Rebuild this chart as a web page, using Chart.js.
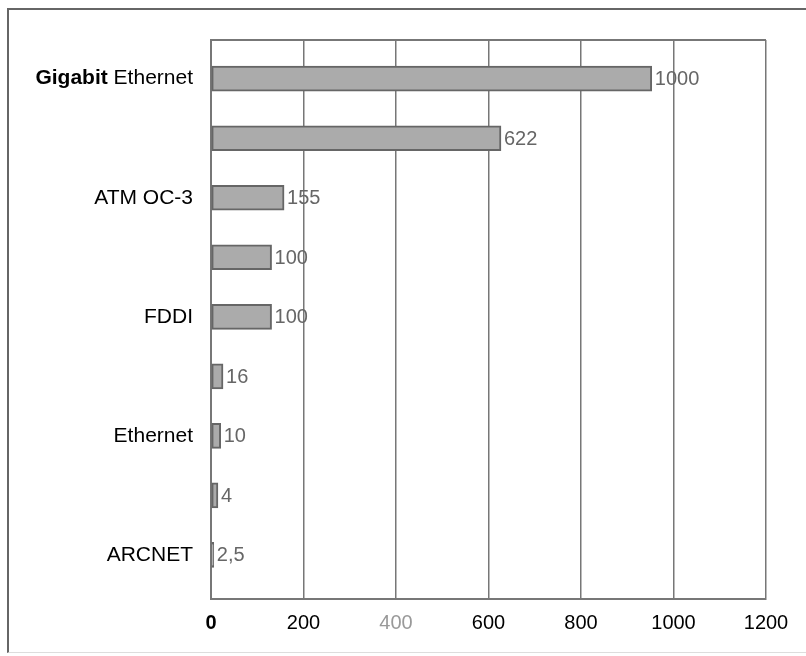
<!DOCTYPE html>
<html>
<head>
<meta charset="utf-8">
<script src="https://cdn.jsdelivr.net/npm/chart.js@4/dist/chart.umd.min.js"></script>
<style>
    body { margin: 0; background: #fff; }
    #wrap { position: relative; width: 806px; height: 656px; }
    #frame {
        position: absolute; left: 7px; top: 8px; right: 0; bottom: 3px;
        border-left: 2px solid #666; border-top: 2px solid #666; border-bottom: 1px solid #ddd;
    }
    canvas { position: absolute; left: 0; top: 0; }
</style>
</head>
<body>
<div id="wrap">
    <div id="frame"></div>
    <canvas id="chart" width="806" height="656"></canvas>
</div>
<script>
// --- DATA ---
const networks = ["Gigabit Ethernet", "", "ATM OC-3", "", "FDDI", "", "Ethernet", "", "ARCNET"];
const speedLabels = ["1000", "622", "155", "100", "100", "16", "10", "4", "2,5"];
// bar lengths as drawn in the picture (Mbit/s on the axis)
const barLengths = [953, 627, 158, 131, 131, 26, 21, 15, 6];
const xTicks = [0, 200, 400, 600, 800, 1000, 1200];

const FONT = "'Liberation Sans', Arial, sans-serif";
const LINE = '#777';

// value labels + top edge of the plot + mixed-weight first label
const extras = {
    id: 'extras',
    afterDatasetsDraw(chart) {
        const { ctx, chartArea } = chart;
        const meta = chart.getDatasetMeta(0);
        ctx.save();
        ctx.font = `20px ${FONT}`;
        ctx.fillStyle = '#666';
        ctx.textBaseline = 'middle';
        ctx.textAlign = 'left';
        meta.data.forEach((bar, i) => {
            ctx.fillText(speedLabels[i], bar.x + 3, bar.y + 1);
        });

        ctx.strokeStyle = LINE;
        ctx.lineWidth = 2;
        ctx.beginPath();
        ctx.moveTo(chartArea.left, chartArea.top);
        ctx.lineTo(chartArea.right, chartArea.top);
        ctx.stroke();

        // "Gigabit Ethernet" with bold first word
        const y = chart.scales.y.getPixelForValue(0);
        const right = chartArea.left - 18;
        ctx.fillStyle = '#000';
        ctx.textAlign = 'right';
        ctx.font = `21px ${FONT}`;
        ctx.fillText(" Ethernet", right, y);
        const w = ctx.measureText(" Ethernet").width;
        ctx.font = `bold 21px ${FONT}`;
        ctx.fillText("Gigabit", right - w, y);
        ctx.restore();
    }
};

new Chart(document.getElementById('chart'), {
    type: 'bar',
    data: {
        datasets: [{
            data: barLengths.map((v, i) => ({ x: v, y: i })),
            backgroundColor: '#ababab',
            borderColor: '#666',
            borderWidth: 2,
            barThickness: 25,
            borderSkipped: false
        }]
    },
    options: {
        indexAxis: 'y',
        responsive: false,
        animation: false,
        layout: { padding: { top: 40, right: 40, bottom: 0, left: 0 } },
        plugins: { legend: { display: false }, tooltip: { enabled: false } },
        scales: {
            x: {
                type: 'linear',
                min: 0,
                max: 1200,
                afterBuildTicks: (s) => { s.ticks = xTicks.map(v => ({ value: v })); },
                afterFit: (s) => { s.height = 57; },
                grid: { color: LINE, lineWidth: 1.5, drawTicks: false },
                border: { color: LINE, width: 2 },
                ticks: {
                    padding: 12,
                    callback: (v) => String(v),
                    color: (c) => c.tick && c.tick.value === 400 ? '#999' : '#000',
                    font: (c) => ({ family: FONT, size: 20, weight: c.tick && c.tick.value === 0 ? 'bold' : 'normal' })
                }
            },
            y: {
                type: 'linear',
                reverse: true,
                offset: false,
                min: -0.65,
                max: 8.74,
                afterBuildTicks: (s) => { s.ticks = networks.map((n, i) => ({ value: i })); },
                afterFit: (s) => { s.width = 211; },
                grid: { display: false },
                border: { color: LINE, width: 2 },
                ticks: {
                    padding: 10,
                    color: '#000',
                    font: { family: FONT, size: 21 },
                    callback: (v) => v === 0 ? '' : networks[v]
                }
            }
        }
    },
    plugins: [extras]
});
</script>
</body>
</html>
